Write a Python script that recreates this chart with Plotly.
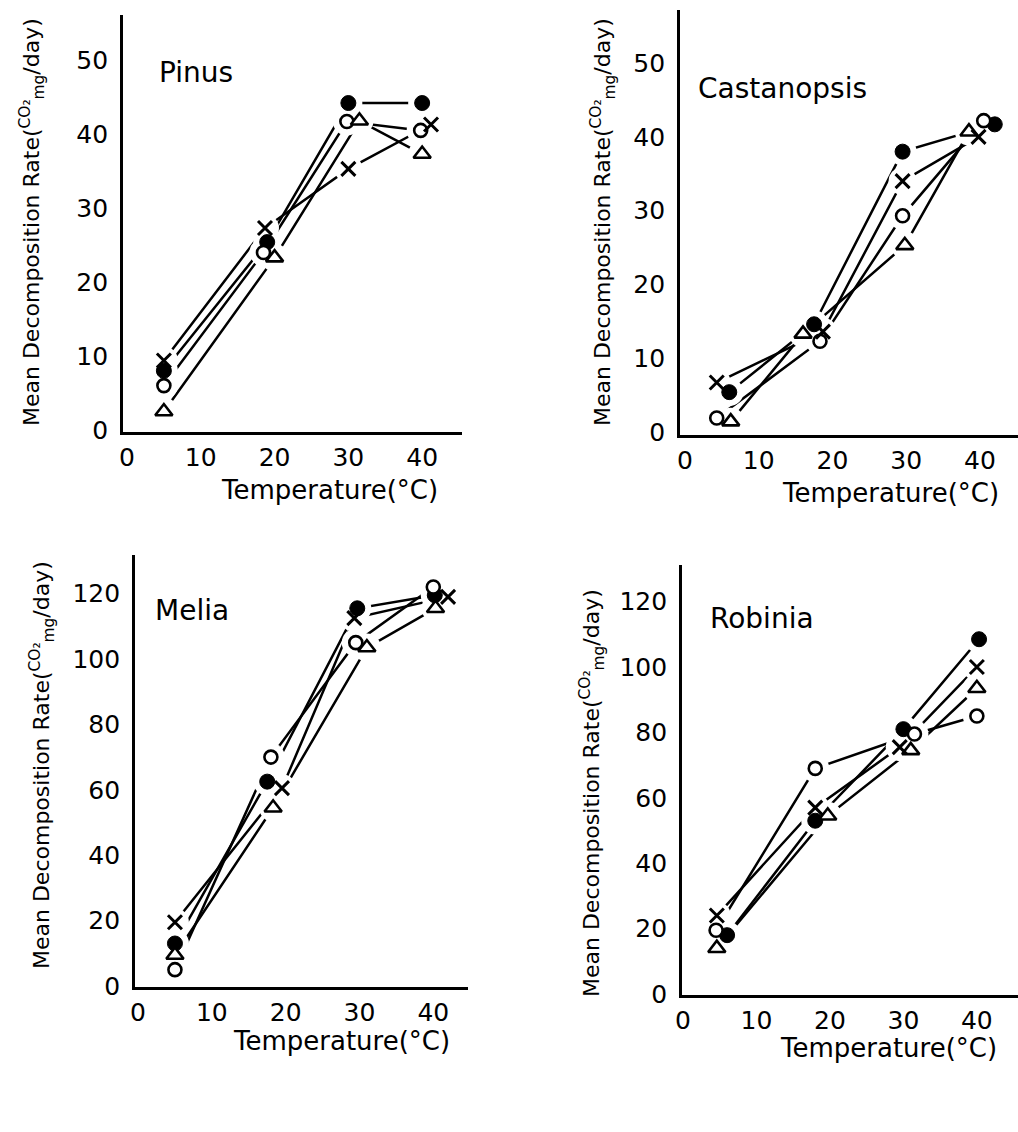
import plotly.graph_objects as go

W, H = 1018, 1132

# ---------------- data ----------------
species = ["Pinus", "Castanopsis", "Melia", "Robinia"]
series = ["filled", "open", "tri", "cross"]

pinus_x = {"filled": [5, 19, 30, 40], "open": [5, 18.5, 29.8, 39.8],
           "tri": [5, 20, 31.5, 40], "cross": [5, 18.7, 30, 41.2]}
pinus_y = {"filled": [8, 25.4, 44.2, 44.2], "open": [6.0, 24.0, 41.7, 40.5],
           "tri": [2.5, 23.3, 41.8, 37.3], "cross": [9.4, 27.3, 35.3, 41.3]}

castanopsis_x = {"filled": [6, 17.5, 29.5, 42], "open": [4.3, 18.3, 29.5, 40.5],
                 "tri": [6.2, 16, 29.8, 38.5], "cross": [4.3, 18.7, 29.5, 39.8]}
castanopsis_y = {"filled": [5.4, 14.6, 38, 41.7], "open": [1.9, 12.3, 29.3, 42.2],
                 "tri": [1.4, 13.3, 25.3, 40.7], "cross": [6.7, 13.6, 34, 40]}

melia_x = {"filled": [5, 17.5, 29.7, 40.2], "open": [5, 18, 29.5, 40],
           "tri": [5, 18.3, 31, 40.3], "cross": [5, 19.5, 29.3, 42]}
melia_y = {"filled": [13, 62.5, 115.5, 119.5], "open": [5, 70, 105, 122],
           "tri": [9.5, 54.5, 103.5, 115.5], "cross": [19.5, 60.5, 112.5, 119]}

robinia_x = {"filled": [6, 18, 30, 40.3], "open": [4.5, 18, 31.5, 40],
             "tri": [4.6, 19.7, 31, 40], "cross": [4.6, 18, 29.5, 40]}
robinia_y = {"filled": [18, 53, 81, 108.5], "open": [19.5, 69, 79.5, 85],
             "tri": [14, 54.5, 74.5, 93.5], "cross": [24, 57, 75.5, 100]}

x_ticks = [0, 10, 20, 30, 40]
y_ticks_small = [0, 10, 20, 30, 40, 50]
y_ticks_large = [0, 20, 40, 60, 80, 100, 120]

y_title = "Mean Decomposition Rate(<sup>CO₂</sup><sub>mg</sub>/day)"
x_title = "Temperature(°C)"

# ---------------- layout geometry (pixels) ----------------
panels = [
    ("Pinus", pinus_x, pinus_y, 123, 462, 15, 432, [-0.54, 45.4], [-0.27, 56.1], y_ticks_small),
    ("Castanopsis", castanopsis_x, castanopsis_y, 680, 1018, 10, 435, [-0.68, 45.15], [-0.41, 57.2], y_ticks_small),
    ("Melia", melia_x, melia_y, 135, 468, 555, 987, [-0.41, 44.7], [-0.3, 131.8], y_ticks_large),
    ("Robinia", robinia_x, robinia_y, 682, 1018, 565, 995, [-0.14, 45.6], [-0.3, 131.2], y_ticks_large),
]

label_pos = {"Pinus": (196, 72), "Castanopsis": (782, 88), "Melia": (192, 610), "Robinia": (762, 618)}
ytitle_pos = {"Pinus": (32, 222), "Castanopsis": (603, 222), "Melia": (42, 765), "Robinia": (592, 793)}
xtitle_pos = {"Pinus": (329, 490), "Castanopsis": (890, 493), "Melia": (341, 1041), "Robinia": (888, 1048)}

FONT = "DejaVu Sans, sans-serif"

marker_style = {
    "filled": dict(symbol="circle", size=15, color="black", line=dict(color="black", width=1)),
    "open": dict(symbol="circle", size=13, color="white", line=dict(color="black", width=2.6)),
    "tri": dict(symbol="triangle-up", size=15, color="white", line=dict(color="black", width=2.6)),
    "cross": dict(symbol="x-thin", size=14, color="black", line=dict(color="black", width=3)),
}

fig = go.Figure()
layout = dict(width=W, height=H, margin=dict(l=0, r=0, t=0, b=0),
              paper_bgcolor="white", plot_bgcolor="white", showlegend=False,
              font=dict(family=FONT, color="black"))
annotations = []

for i, (name, xd, yd, pl, pr, pt, pb, xr, yr, yt) in enumerate(panels, start=1):
    xa = "x" if i == 1 else f"x{i}"
    ya = "y" if i == 1 else f"y{i}"
    for s in series:
        fig.add_trace(go.Scatter(x=xd[s], y=yd[s], mode="lines", xaxis=xa, yaxis=ya,
                                 line=dict(color="black", width=2.5), hoverinfo="skip"))
    for s in series:
        fig.add_trace(go.Scatter(x=xd[s], y=yd[s], mode="markers", xaxis=xa, yaxis=ya,
                                 marker=dict(symbol="circle", size=28, color="white"),
                                 hoverinfo="skip"))
    for s in series:
        fig.add_trace(go.Scatter(x=xd[s], y=yd[s], mode="markers", xaxis=xa, yaxis=ya,
                                 marker=marker_style[s], name=s))

    xkey = "xaxis" if i == 1 else f"xaxis{i}"
    ykey = "yaxis" if i == 1 else f"yaxis{i}"
    layout[xkey] = dict(domain=[pl / W, pr / W], range=xr, anchor=ya,
                        tickvals=x_ticks, showgrid=False, zeroline=False,
                        showline=True, linecolor="black", linewidth=2.8,
                        ticks="outside", ticklen=1, tickcolor="rgba(0,0,0,0)",
                        tickfont=dict(size=25, family=FONT), automargin=False)
    layout[ykey] = dict(domain=[1 - pb / H, 1 - pt / H], range=yr, anchor=xa,
                        tickvals=yt, showgrid=False, zeroline=False,
                        showline=True, linecolor="black", linewidth=2.8,
                        ticks="outside", ticklen=7, tickcolor="rgba(0,0,0,0)",
                        tickfont=dict(size=25, family=FONT), automargin=False)

    lx, ly = label_pos[name]
    annotations.append(dict(text=name, x=lx / W, y=1 - ly / H, xref="paper", yref="paper",
                            xanchor="center", yanchor="middle",
                            showarrow=False, font=dict(size=28, family=FONT)))
    tx, ty = ytitle_pos[name]
    annotations.append(dict(text=y_title, x=tx / W, y=1 - ty / H, xref="paper", yref="paper",
                            xanchor="center", yanchor="middle",
                            showarrow=False, textangle=-90, font=dict(size=22, family=FONT)))
    tx, ty = xtitle_pos[name]
    annotations.append(dict(text=x_title, x=tx / W, y=1 - ty / H, xref="paper", yref="paper",
                            xanchor="center", yanchor="middle",
                            showarrow=False, font=dict(size=26, family=FONT)))

layout["annotations"] = annotations
fig.update_layout(**layout)
fig.write_html("out.html")
